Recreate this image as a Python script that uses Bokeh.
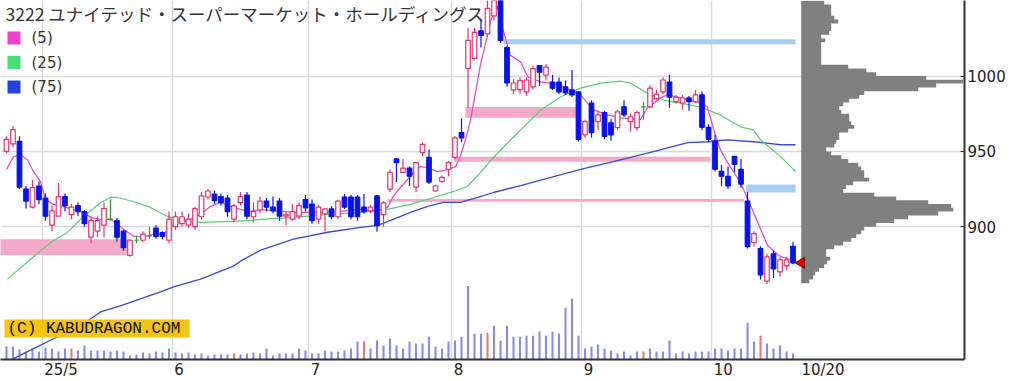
import numpy as np
from bokeh.plotting import figure
from bokeh.models import Range1d, FixedTicker, Label, BoxAnnotation, ColumnDataSource
from bokeh.embed import file_html
from bokeh.resources import INLINE

# ---------------- data ----------------
title = "3222 ユナイテッド・スーパーマーケット・ホールディングス"

opens = [950, 955, 956.6, 925, 913, 927, 919, 901, 907, 920,
         908, 914, 910, 893, 897, 901, 905, 904, 897, 881,
         891, 891, 894, 899, 896, 891, 900, 902, 901, 900,
         906.6, 919.7, 921.7, 920, 919, 905, 916, 921, 906.6, 911,
         917, 913, 917, 907, 905, 907, 918, 915, 905, 908.6,
         911.8, 906.6, 919.7, 919.7, 919.7, 913, 910.5, 920.4, 908, 925,
         945, 936, 938.9, 926.3, 949.3, 946, 923.7, 930, 938, 946,
         962.5, 1005, 1011.8, 1030, 1028, 1040, 1052, 1019, 990.8, 991,
         989.5, 992.8, 1007, 1000.7, 996, 996, 992.8, 990.8, 989.5, 961,
         982, 969.7, 975.7, 969, 965.8, 979.6, 969.7, 965.8, 979.6, 979.6,
         984.9, 989.5, 996, 983, 982, 985.5, 983, 987.5, 966, 957,
         936.8, 933.5, 946.7, 938, 917, 889.5, 885.5, 863.8, 882, 870,
         874, 887]
highs = [960, 967, 960, 927, 931, 930, 922, 914, 929, 922,
         915, 916, 911, 907, 907, 916, 918, 906, 898, 891.5,
         894, 897, 900, 901, 897, 910, 910, 910, 909, 913,
         923, 925, 924, 922, 921, 915, 923, 923, 916, 920,
         919, 920, 919, 910, 915, 916, 921, 918, 914.5, 912,
         913.8, 918, 921.7, 921, 921, 921.7, 914.5, 921, 917, 938,
         945.6, 945, 940, 943, 956, 951.3, 928, 934, 943.6, 960,
         972, 1032, 1032, 1038, 1050, 1056, 1056, 1020, 998, 999,
         999, 1007, 1007, 1008, 1000.7, 999, 997, 1004, 990, 971,
         984, 977, 977, 971.7, 977.6, 984, 975, 977, 983, 994,
         991, 999, 1000.7, 987.5, 987.5, 986.8, 990.8, 990, 968, 961,
         941, 940, 947, 945, 923, 897, 887, 882, 884, 880,
         880, 890]
lows = [949, 953, 925, 912, 912, 915, 904, 897, 907, 910,
        905, 907, 900, 889, 893, 893, 904, 890, 884, 880,
        889, 890, 892, 892, 891.5, 889, 898, 900, 899, 898,
        905, 918, 915, 914, 906.6, 903, 914, 905, 903, 909,
        910, 909, 904, 901, 904, 905, 910, 902, 902, 897,
        905, 905, 911.8, 905, 904, 908.6, 909, 896.7, 900, 923,
        929.6, 935.5, 927, 923, 946.7, 928.3, 923, 929, 933.5, 945,
        956, 979, 1010.5, 1019, 1026, 1037, 1022, 993, 988, 988,
        987, 991, 993.4, 997, 990.8, 988, 987.5, 986, 956.6, 959,
        959, 964, 957.9, 957, 964, 973, 963, 964, 971, 979,
        984, 988, 979, 981.6, 977.6, 977, 982, 964, 956, 936.8,
        927, 925, 936, 926, 885.5, 886.8, 865, 862, 866, 867,
        871, 875]
closes = [958, 964.5, 926.3, 917, 926, 918, 907, 910.5, 920, 914,
          913, 910, 902, 904, 904, 912, 905, 893, 886, 891,
          891, 895, 894, 893.5, 893.5, 905, 906.6, 906.6, 905, 912,
          920.4, 923.7, 917.3, 916, 910, 913.8, 920, 907, 910, 917,
          913, 910.5, 907, 908, 910, 914, 912.5, 904, 913, 911.8,
          906.6, 917, 913, 906.6, 906.6, 910, 913, 900.7, 915.8, 936,
          942.6, 938.9, 933.5, 942.6, 954.6, 929.6, 927, 932.8, 942.6, 959,
          959, 1023.7, 1029, 1027, 1045, 1052, 1023.7, 995.4, 995.4, 997,
          997.4, 1005, 1002.6, 1006, 992, 989.5, 988.8, 987.5, 957.9, 969.7,
          962.5, 974.3, 960, 961, 976.3, 974.3, 973, 975.7, 979.6, 992,
          988, 997.4, 986, 986, 985.5, 983, 987.5, 966, 958, 938.2,
          933.5, 927, 941.4, 928.3, 886.8, 895.4, 868, 880, 872, 878,
          878, 876]
volumes = [26, 26, 20, 16, 22, 16, 24, 22, 16, 22,
           22, 18, 28, 18, 18, 18, 16, 18, 16, 8,
           10, 14, 12, 16, 14, 22, 14, 12, 14, 10,
           12, 8, 10, 10, 10, 12, 10, 12, 14, 12,
           22, 8, 12, 12, 12, 22, 18, 12, 12, 18,
           16, 16, 18, 22, 36, 36, 22, 38, 28, 42,
           28, 22, 36, 32, 32, 46, 26, 22, 36, 38,
           46, 148, 52, 52, 54, 68, 38, 68, 46, 46,
           48, 48, 56, 48, 56, 52, 104, 122, 48, 22,
           26, 30, 22, 18, 12, 16, 8, 16, 16, 22,
           16, 16, 38, 12, 16, 12, 16, 16, 16, 22,
           22, 18, 22, 22, 74, 36, 48, 32, 22, 28,
           16, 12]
vol_red_days = [10, 35, 55, 74, 98, 116]

month_first_day = [6, 26, 47, 69, 89, 109]
month_labels = ["25/5", "6", "7", "8", "9", "10"]
last_label = "10/20"
price_ticks = [900, 950, 1000]

ma5_x = [0, 1.08, 2.15, 3.23, 4.15, 5.23, 6.0, 7.23, 8.77, 10.15,
         11.85, 12.92, 14.46, 16.0, 17.08, 18.0, 19.54, 21.08, 22.6, 24.15,
         25.23, 26.77, 28.3, 29.85, 31.4, 32.9, 34.5, 36.0, 37.5, 39.1,
         42.15, 45.2, 48.3, 51.4, 54.5, 57.1, 58.6, 59.5, 60.6, 61.7,
         62.6, 63.7, 64.8, 66.3, 67.8, 69.1, 69.8, 70.6, 71.4, 72.9,
         74.5, 75.5, 76.3, 77.5, 79.1, 80.2, 82.2, 85.2, 88.3, 90.3,
         92.5, 94.5, 97.5, 98.6, 100.6, 101.7, 103.7, 106.8, 107.8, 108.8,
         109.8, 110.9, 112.9, 114.9, 117.1, 118.9, 120.9]
ma5_v = [938.0, 946.5, 947.8, 944.5, 936.6, 930.0, 918.1, 914.8, 913.5, 911.5,
         909.5, 906.2, 904.9, 904.9, 901.6, 898.3, 893.7, 893.0, 895.0, 895.0,
         899.6, 903.6, 904.9, 908.2, 913.5, 916.1, 913.5, 911.5, 910.2, 911.5,
         910.2, 909.5, 909.5, 910.2, 911.5, 910.2, 912.8, 920.1, 926.0, 931.3,
         935.9, 939.9, 939.2, 936.6, 937.9, 939.9, 946.5, 957.7, 970.9, 1007.1,
         1036.8, 1046.7, 1032.4, 1013.9, 1009.3, 999.4, 996.1, 994.1, 987.5, 977.6,
         974.3, 972.3, 971.0, 978.9, 985.5, 987.5, 985.5, 982.2, 979.6, 964.5,
         951.3, 942.7, 929.5, 909.7, 887.3, 880.7, 877.4]
ma25_x = [0.15, 3.7, 6.8, 9.4, 11.85, 14.5, 16.0, 17.1, 19.5, 22.15,
          24.8, 27.2, 29.85, 34.9, 39.1, 44.15, 49.4, 54.5, 58.6, 62.15,
          65.7, 68.8, 70.9, 72.9, 74.9, 77.1, 79.1, 82.2, 85.2, 88.3,
          91.4, 94.5, 96.0, 98.6, 101.1, 103.7, 106.8, 109.8, 112.9, 114.9,
          116.0, 119.1, 121.4]
ma25_v = [865.2, 878.4, 889.6, 896.2, 906.8, 916.1, 919.4, 919.4, 916.7, 912.8,
          906.8, 903.5, 902.9, 903.5, 904.8, 906.2, 908.2, 909.5, 911.5, 914.8,
          919.4, 923.4, 926.7, 935.9, 945.8, 955.7, 964.3, 977.5, 986.1, 992.0,
          995.3, 996.6, 995.3, 988.7, 984.1, 982.1, 979.5, 974.2, 966.3, 964.3,
          957.7, 946.5, 936.6]
ma75_x = [0, 1.08, 4.15, 7.23, 11.4, 14.46, 17.5, 20.6, 23.7, 25.7,
          29.85, 34.9, 36.0, 39.1, 44.15, 49.4, 54.5, 57.1, 59.5, 62.15,
          64.8, 67.2, 69.8, 72.5, 74.9, 79.1, 84.15, 89.4, 93.4, 99.5,
          104.8, 107.8, 110.9, 114.9, 119.1, 121.4]
ma75_v = [808.0, 812.4, 819.0, 825.6, 834.2, 843.4, 847.4, 852.0, 856.7, 860.0,
          865.2, 873.8, 877.1, 884.4, 891.7, 896.3, 899.6, 900.9, 904.9, 909.5,
          913.5, 916.1, 916.1, 919.4, 922.7, 927.3, 933.3, 939.2, 943.2, 949.8,
          955.8, 956.4, 957.7, 956.4, 954.4, 954.4]

# price-by-volume profile: bins of 2.5 yen from the top (1050) downward
prof_top = 1050.0
prof_step = 2.5
prof_vals = [23, 30, 30, 30, 33, 37, 30, 30, 28, 20,
             24, 20, 20, 20, 20, 20, 20, 47, 65, 75,
             125, 162, 135, 117, 63, 58, 48, 42, 38, 40,
             48, 48, 50, 53, 47, 38, 38, 35, 33, 25,
             30, 40, 47, 57, 60, 63, 63, 68, 52, 45,
             42, 73, 95, 127, 150, 152, 137, 107, 93, 75,
             63, 60, 55, 50, 42, 33, 25, 25, 29, 26,
             23, 18, 14, 12, 8]

# support / resistance zones (day span, price span)
pink_left = [-1, 70.6, 68.8, 58.6]
pink_right = [19.1, 88.0, 108.3, 113.5]
pink_bottom = [881.1, 972.3, 943.2, 916.5]
pink_top = [891.7, 979.5, 946.5, 918.4]
blue_left = [76.5, 113.8]
blue_right = [121.4, 121.4]
blue_bottom = [1021.1, 922.7]
blue_top = [1024.4, 928.0]

# ---------------- styles / layout ----------------
W, H = 1029, 381
FW, FH = 964, 361
x_start, x_end = -0.92, 147.38
y_start, y_end = 811.8, 1050.2
ppu = FW / (x_end - x_start)

C_UP = "#e8336a"
C_DN = "#0a14e0"
C_DOJI = "#2a9a2a"
C_MA5 = "#e050cc"
C_MA25 = "#55cc77"
C_MA75 = "#3a4acc"

p = figure(width=W, height=H, output_backend="svg", toolbar_location=None,
           x_range=Range1d(x_start, x_end), y_range=Range1d(y_start, y_end),
           y_axis_location="right", min_border_left=0, min_border_top=0,
           min_border_right=W - FW, min_border_bottom=H - FH)
p.outline_line_color = None
p.background_fill_color = "white"
p.border_fill_color = "white"
p.extra_y_ranges = {"vol": Range1d(0, 722)}
p.extra_x_ranges = {"prof": Range1d(-800.7, 163.3)}

# grids
p.xgrid.ticker = FixedTicker(ticks=[d - 0.5 for d in month_first_day])
p.ygrid.ticker = FixedTicker(ticks=price_ticks)
for g in (p.xgrid, p.ygrid):
    g.grid_line_color = "#d9d9d9"
    g.grid_line_width = 1.5

# axes
def text_w(s):
    return sum(9.5 if ch.isdigit() else 5.0 for ch in s)

anchors = [d - 0.5 for d in month_first_day] + [len(closes)]
labels = month_labels + [last_label]
xt = [round(a + (2 + text_w(l) / 2) / ppu, 3) for a, l in zip(anchors, labels)]
p.xaxis.ticker = FixedTicker(ticks=xt)
p.xaxis.major_label_overrides = {t: l for t, l in zip(xt, labels)}
p.xaxis.major_tick_in = 0
p.xaxis.major_tick_out = 0
p.xaxis.minor_tick_line_color = None
p.xaxis.axis_line_color = "#333333"
p.xaxis.axis_line_width = 2
p.xaxis.major_label_standoff = 1
p.xaxis.major_label_text_font = "DejaVu Sans"
p.xaxis.major_label_text_font_size = "15px"
p.xaxis.major_label_text_color = "#222222"

p.yaxis.ticker = FixedTicker(ticks=price_ticks)
p.yaxis.major_tick_in = 4
p.yaxis.major_tick_out = 0
p.yaxis.major_tick_line_color = "#333333"
p.yaxis.minor_tick_line_color = None
p.yaxis.axis_line_color = "#333333"
p.yaxis.axis_line_width = 2
p.yaxis.major_label_standoff = 3
p.yaxis.major_label_text_font = "DejaVu Sans"
p.yaxis.major_label_text_font_size = "15px"
p.yaxis.major_label_text_color = "#222222"

# zones
p.quad(left=pink_left, right=pink_right, bottom=pink_bottom, top=pink_top,
       fill_color="#f5a9c9", line_color=None)
p.quad(left=blue_left, right=blue_right, bottom=blue_bottom, top=blue_top,
       fill_color="#a9cdf2", line_color=None)

# volume
n = len(closes)
days = list(range(n))
vol_col = ["#e07a7a" if d in vol_red_days else "#8a8ae0" for d in days]
p.vbar(x=days, width=0.32, top=volumes, bottom=0, y_range_name="vol",
       fill_color=vol_col, line_color=None)

# price-by-volume profile drawn as one stepped outline (no seams between bins)
px_, py_ = [0.0], [prof_top]
for k, v in enumerate(prof_vals):
    hi = prof_top - prof_step * k
    lo = hi - prof_step
    px_ += [v, v]
    py_ += [hi, lo]
px_.append(0.0)
py_.append(prof_top - prof_step * len(prof_vals))
p.patch(px_, py_, x_range_name="prof", fill_color="#808080", line_color=None)

# moving averages
p.line(ma75_x, ma75_v, line_color=C_MA75, line_width=1.3)
p.line(ma25_x, ma25_v, line_color=C_MA25, line_width=1.2)
p.line(ma5_x, ma5_v, line_color=C_MA5, line_width=1.3)

# candles
col = []
fill = []
for o, c in zip(opens, closes):
    if c > o:
        col.append(C_UP); fill.append("white")
    elif c < o:
        col.append(C_DN); fill.append(C_DN)
    else:
        col.append(C_DOJI); fill.append(C_DOJI)
src = ColumnDataSource(dict(
    x=days, o=opens, h=highs, l=lows, c=closes,
    top=[max(o, c) for o, c in zip(opens, closes)],
    bot=[min(o, c) for o, c in zip(opens, closes)],
    col=col, fill=fill))
p.segment(x0="x", y0="l", x1="x", y1="h", line_color="col", line_width=1.2, source=src)
p.vbar(x="x", width=0.7, top="top", bottom="bot", fill_color="fill",
       line_color="col", line_width=1.2, source=src)

# last-price marker
p.scatter(x=[n - 1 + 1.3], y=[closes[-1]], marker="triangle", size=11, angle=np.pi / 2,
          fill_color="#e00000", line_color="#700000", line_width=1)

# title, legend, watermark (screen units from frame bottom-left)
def sy(ypx):
    return FH - ypx

p.add_layout(Label(x=5, y=sy(15), x_units="screen", y_units="screen", text=title,
                   text_font="Noto Sans CJK JP", text_font_size="17.5px",
                   text_baseline="middle", text_color="#333333"))
for i, (lab, colr) in enumerate([("(5)", "#ee44cc"), ("(25)", "#44dd77"), ("(75)", "#2244dd")]):
    top_px = 33 + i * 24.5
    p.add_layout(BoxAnnotation(left=7, right=20, top=sy(top_px), bottom=sy(top_px + 13),
                               left_units="screen", right_units="screen",
                               top_units="screen", bottom_units="screen",
                               fill_color=colr, fill_alpha=1, line_color=None))
    p.add_layout(Label(x=31, y=sy(top_px + 6.5), x_units="screen", y_units="screen",
                       text=lab, text_font="DejaVu Sans", text_font_size="15px",
                       text_baseline="middle", text_color="#333333"))

p.add_layout(BoxAnnotation(left=4, right=189, top=sy(321), bottom=sy(339),
                           left_units="screen", right_units="screen",
                           top_units="screen", bottom_units="screen",
                           fill_color="#f3c316", fill_alpha=1, line_color=None))
p.add_layout(Label(x=7, y=sy(330), x_units="screen", y_units="screen",
                   text="(C) KABUDRAGON.COM", text_font="Liberation Mono",
                   text_font_size="16px", text_baseline="middle", text_color="#111111"))

open("out.html", "w").write(file_html(p, INLINE))
